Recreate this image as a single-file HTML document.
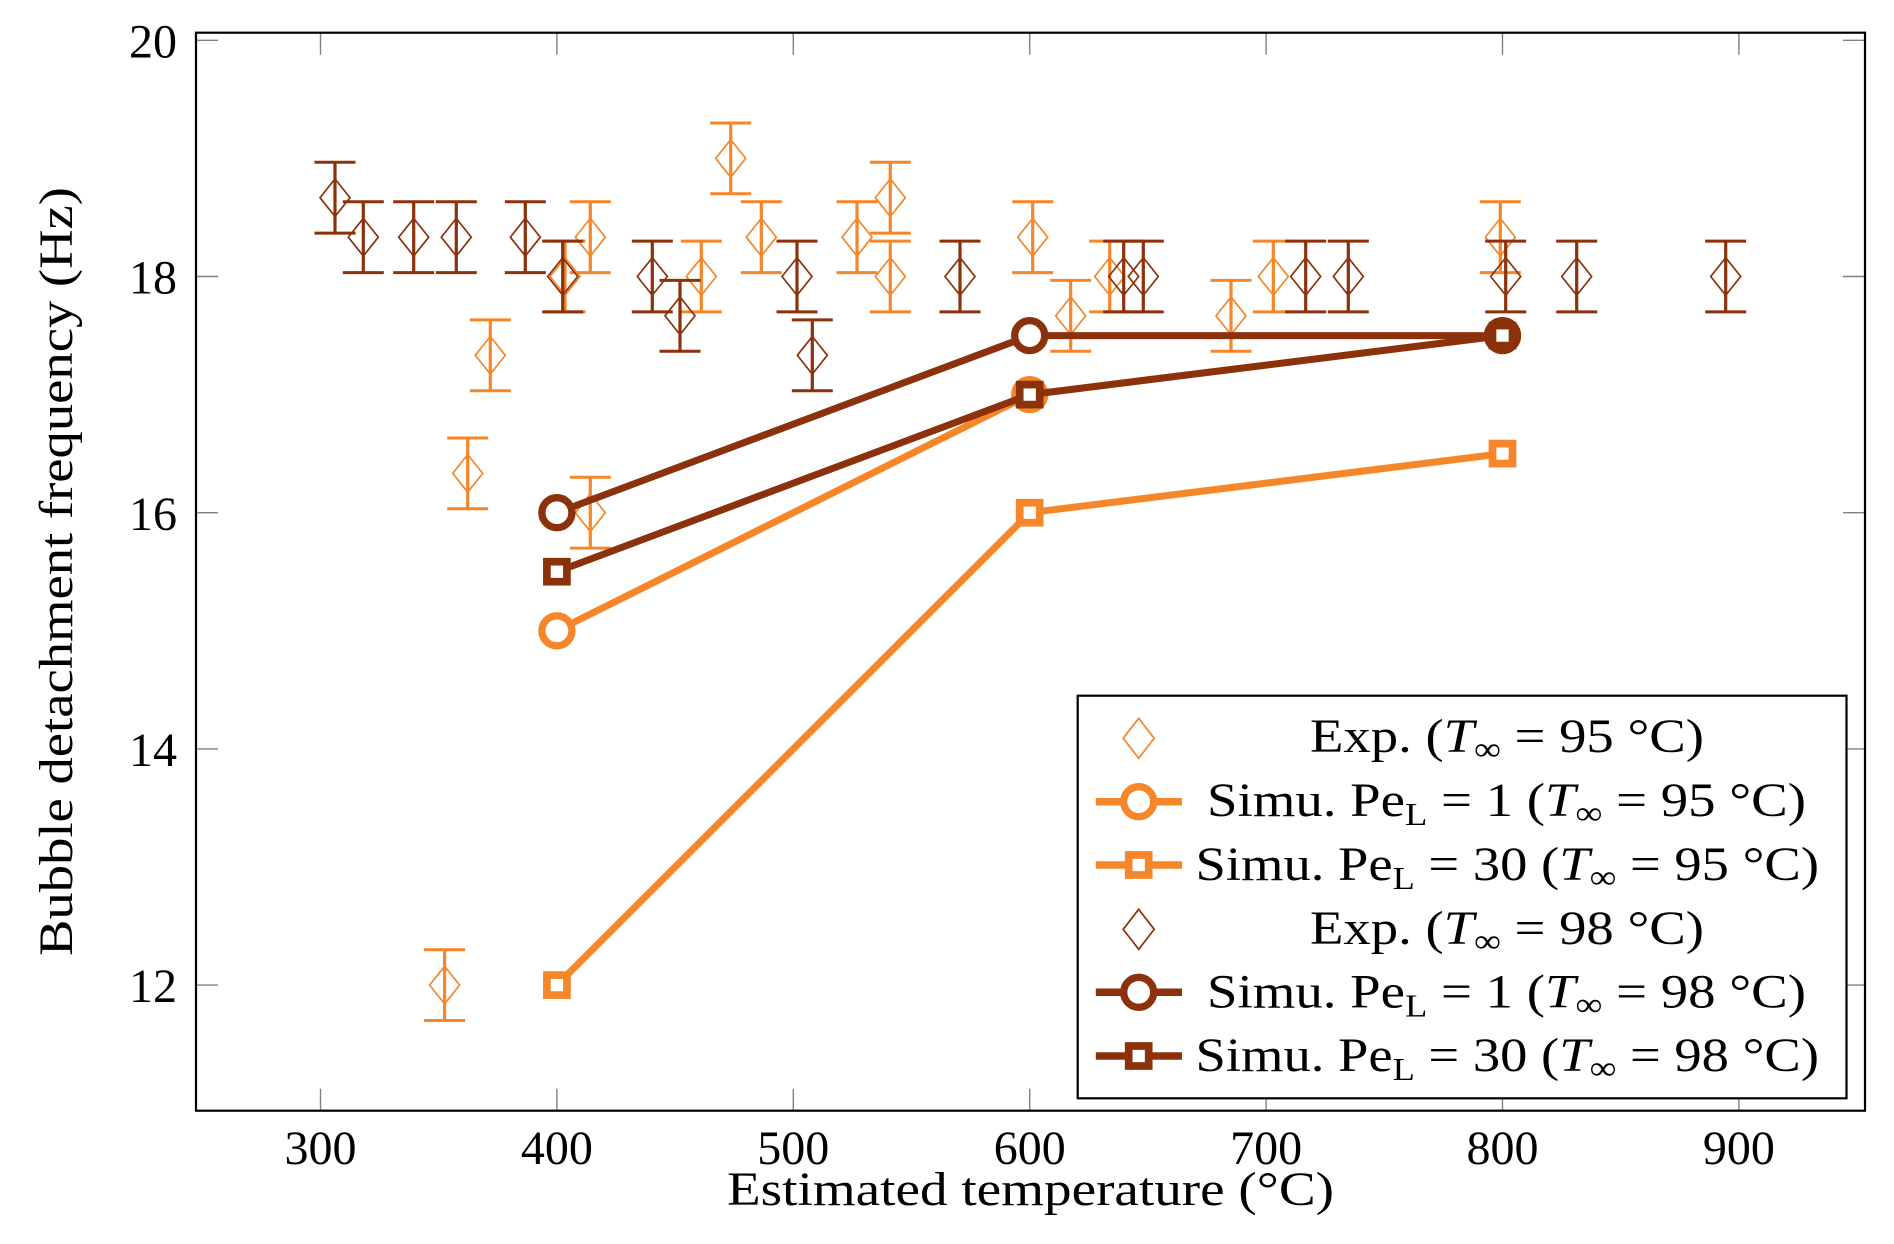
<!DOCTYPE html>
<html><head><meta charset="utf-8"><style>
html,body{margin:0;padding:0;background:#fff;}
svg{display:block;}
text{font-family:"Liberation Serif","DejaVu Serif",serif;fill:#000;}
</style></head><body>
<svg xmlns="http://www.w3.org/2000/svg" xmlns:xlink="http://www.w3.org/1999/xlink" width="1894" height="1244" viewBox="0 0 1894 1244">
<defs>
<g id="eo" stroke="#f5862a" fill="none">
<line x1="0" y1="-35.4" x2="0" y2="35.4" stroke-width="3.2"/>
<line x1="-20.5" y1="-35.4" x2="20.5" y2="-35.4" stroke-width="3"/>
<line x1="-20.5" y1="35.4" x2="20.5" y2="35.4" stroke-width="3"/>
<polygon points="0,-18.8 15,0 0,18.8 -15,0" stroke-width="1.7"/>
</g>
<g id="eb" stroke="#8b320c" fill="none">
<line x1="0" y1="-35.4" x2="0" y2="35.4" stroke-width="3.2"/>
<line x1="-20.5" y1="-35.4" x2="20.5" y2="-35.4" stroke-width="3"/>
<line x1="-20.5" y1="35.4" x2="20.5" y2="35.4" stroke-width="3"/>
<polygon points="0,-18.8 15,0 0,18.8 -15,0" stroke-width="1.7"/>
</g>
</defs>
<rect x="0" y="0" width="1894" height="1244" fill="#fff"/>

<!-- ticks -->
<g stroke="#808080" stroke-width="1.4">
<line x1="320.5" y1="1110.7" x2="320.5" y2="1088.7"/><line x1="320.5" y1="32.7" x2="320.5" y2="54.7"/>
<line x1="556.9" y1="1110.7" x2="556.9" y2="1088.7"/><line x1="556.9" y1="32.7" x2="556.9" y2="54.7"/>
<line x1="793.3" y1="1110.7" x2="793.3" y2="1088.7"/><line x1="793.3" y1="32.7" x2="793.3" y2="54.7"/>
<line x1="1029.7" y1="1110.7" x2="1029.7" y2="1088.7"/><line x1="1029.7" y1="32.7" x2="1029.7" y2="54.7"/>
<line x1="1266.1" y1="1110.7" x2="1266.1" y2="1088.7"/><line x1="1266.1" y1="32.7" x2="1266.1" y2="54.7"/>
<line x1="1502.5" y1="1110.7" x2="1502.5" y2="1088.7"/><line x1="1502.5" y1="32.7" x2="1502.5" y2="54.7"/>
<line x1="1738.9" y1="1110.7" x2="1738.9" y2="1088.7"/><line x1="1738.9" y1="32.7" x2="1738.9" y2="54.7"/>
<line x1="196" y1="985.1" x2="218" y2="985.1"/><line x1="1865" y1="985.1" x2="1843" y2="985.1"/>
<line x1="196" y1="748.9" x2="218" y2="748.9"/><line x1="1865" y1="748.9" x2="1843" y2="748.9"/>
<line x1="196" y1="512.7" x2="218" y2="512.7"/><line x1="1865" y1="512.7" x2="1843" y2="512.7"/>
<line x1="196" y1="276.5" x2="218" y2="276.5"/><line x1="1865" y1="276.5" x2="1843" y2="276.5"/>
<line x1="196" y1="40.3" x2="218" y2="40.3"/><line x1="1865" y1="40.3" x2="1843" y2="40.3"/>
</g>

<!-- orange experimental -->
<use xlink:href="#eo" x="444.6" y="985.1"/>
<use xlink:href="#eo" x="467.7" y="473.4"/>
<use xlink:href="#eo" x="490.3" y="355.3"/>
<use xlink:href="#eo" x="565" y="276.5"/>
<use xlink:href="#eo" x="590.3" y="237.2"/>
<use xlink:href="#eo" x="590.3" y="512.7"/>
<use xlink:href="#eo" x="701.3" y="276.5"/>
<use xlink:href="#eo" x="730.7" y="158.4"/>
<use xlink:href="#eo" x="761.3" y="237.2"/>
<use xlink:href="#eo" x="857" y="237.2"/>
<use xlink:href="#eo" x="890.3" y="197.7"/>
<use xlink:href="#eo" x="890.3" y="276.5"/>
<use xlink:href="#eo" x="1032.7" y="237.2"/>
<use xlink:href="#eo" x="1070.7" y="315.8"/>
<use xlink:href="#eo" x="1109.7" y="276.5"/>
<use xlink:href="#eo" x="1231" y="315.8"/>
<use xlink:href="#eo" x="1273.3" y="276.5"/>
<use xlink:href="#eo" x="1500.3" y="237.2"/>

<!-- orange Pe 1 -->
<polyline points="556.9,630.8 1029.7,394.6 1502.5,335.6" fill="none" stroke="#f5862a" stroke-width="7" stroke-linejoin="round"/>
<g fill="#fff" stroke="#f5862a" stroke-width="7.3">
<circle cx="556.9" cy="630.8" r="15"/><circle cx="1029.7" cy="394.6" r="15"/><circle cx="1502.5" cy="335.6" r="15"/>
</g>
<!-- orange Pe 30 -->
<polyline points="556.9,985.1 1029.7,512.7 1502.5,453.6" fill="none" stroke="#f5862a" stroke-width="7" stroke-linejoin="round"/>
<g fill="#fff" stroke="#f5862a" stroke-width="7.7">
<rect x="546.9" y="975.1" width="20" height="20"/><rect x="1019.7" y="502.7" width="20" height="20"/><rect x="1492.5" y="443.6" width="20" height="20"/>
</g>

<!-- brown experimental -->
<use xlink:href="#eb" x="335" y="197.7"/>
<use xlink:href="#eb" x="363.3" y="237.2"/>
<use xlink:href="#eb" x="413.7" y="237.2"/>
<use xlink:href="#eb" x="456.3" y="237.2"/>
<use xlink:href="#eb" x="525.3" y="237.2"/>
<use xlink:href="#eb" x="562.7" y="276.5"/>
<use xlink:href="#eb" x="652.3" y="276.5"/>
<use xlink:href="#eb" x="680" y="315.8"/>
<use xlink:href="#eb" x="797" y="276.5"/>
<use xlink:href="#eb" x="812.3" y="355.3"/>
<use xlink:href="#eb" x="960" y="276.5"/>
<use xlink:href="#eb" x="1123.7" y="276.5"/>
<use xlink:href="#eb" x="1143.3" y="276.5"/>
<use xlink:href="#eb" x="1305.7" y="276.5"/>
<use xlink:href="#eb" x="1348.3" y="276.5"/>
<use xlink:href="#eb" x="1505.7" y="276.5"/>
<use xlink:href="#eb" x="1576.7" y="276.5"/>
<use xlink:href="#eb" x="1725.7" y="276.5"/>

<!-- brown Pe 1 -->
<polyline points="556.9,512.7 1029.7,335.6 1502.5,335.6" fill="none" stroke="#8b320c" stroke-width="7" stroke-linejoin="round"/>
<g fill="#fff" stroke="#8b320c" stroke-width="7.3">
<circle cx="556.9" cy="512.7" r="15"/><circle cx="1029.7" cy="335.6" r="15"/><circle cx="1502.5" cy="335.6" r="15"/>
</g>
<!-- brown Pe 30 -->
<polyline points="556.9,571.7 1029.7,394.6 1502.5,335.6" fill="none" stroke="#8b320c" stroke-width="7" stroke-linejoin="round"/>
<g fill="#fff" stroke="#8b320c" stroke-width="7.7">
<rect x="546.9" y="561.7" width="20" height="20"/><rect x="1019.7" y="384.6" width="20" height="20"/><rect x="1492.5" y="325.6" width="20" height="20"/>
</g>

<!-- axis box -->
<rect x="196" y="32.7" width="1669" height="1078" fill="none" stroke="#000" stroke-width="2.2"/>

<!-- tick labels -->
<g font-size="48" text-anchor="end">
<text x="177" y="1002">12</text>
<text x="177" y="766">14</text>
<text x="177" y="530">16</text>
<text x="177" y="293.5">18</text>
<text x="177" y="57.3">20</text>
</g>
<g font-size="48" text-anchor="middle">
<text x="320.5" y="1164">300</text>
<text x="556.9" y="1164">400</text>
<text x="793.3" y="1164">500</text>
<text x="1029.7" y="1164">600</text>
<text x="1266.1" y="1164">700</text>
<text x="1502.5" y="1164">800</text>
<text x="1738.9" y="1164">900</text>
</g>

<!-- axis labels -->
<text x="727" y="1205" font-size="48" textLength="607" lengthAdjust="spacingAndGlyphs">Estimated temperature (°C)</text>
<text transform="translate(72,956) rotate(-90)" x="0" y="0" font-size="48" textLength="769" lengthAdjust="spacingAndGlyphs">Bubble detachment frequency (Hz)</text>

<!-- legend -->
<rect x="1077.7" y="695.7" width="768.8" height="402.6" fill="#fff" stroke="#000" stroke-width="2.2"/>
<polygon points="1138.7,718.3 1154.2,738.3 1138.7,758.3 1123.2,738.3" fill="none" stroke="#f5862a" stroke-width="1.7"/>
<line x1="1095.8" y1="801.7" x2="1182" y2="801.7" stroke="#f5862a" stroke-width="7.5"/>
<circle cx="1138.7" cy="801.7" r="15" fill="#fff" stroke="#f5862a" stroke-width="7.3"/>
<line x1="1095.8" y1="865" x2="1182" y2="865" stroke="#f5862a" stroke-width="7.5"/>
<rect x="1128.7" y="855" width="20" height="20" fill="#fff" stroke="#f5862a" stroke-width="7.7"/>
<polygon points="1138.7,909.3 1154.2,929.3 1138.7,949.3 1123.2,929.3" fill="none" stroke="#8b320c" stroke-width="1.7"/>
<line x1="1095.8" y1="992.3" x2="1182" y2="992.3" stroke="#8b320c" stroke-width="7.5"/>
<circle cx="1138.7" cy="992.3" r="15" fill="#fff" stroke="#8b320c" stroke-width="7.3"/>
<line x1="1095.8" y1="1056" x2="1182" y2="1056" stroke="#8b320c" stroke-width="7.5"/>
<rect x="1128.7" y="1046" width="20" height="20" fill="#fff" stroke="#8b320c" stroke-width="7.7"/>

<g font-size="48">
<text x="1310" y="752" textLength="394" lengthAdjust="spacingAndGlyphs">Exp. (<tspan font-style="italic">T</tspan><tspan font-size="33" dy="8">∞</tspan><tspan dy="-8"> = 95 °C)</tspan></text>
<text x="1207" y="816" textLength="599" lengthAdjust="spacingAndGlyphs">Simu. Pe<tspan font-size="32" dy="9">L</tspan><tspan dy="-9"> = 1 (</tspan><tspan font-style="italic">T</tspan><tspan font-size="33" dy="8">∞</tspan><tspan dy="-8"> = 95 °C)</tspan></text>
<text x="1195.5" y="880" textLength="623.5" lengthAdjust="spacingAndGlyphs">Simu. Pe<tspan font-size="32" dy="9">L</tspan><tspan dy="-9"> = 30 (</tspan><tspan font-style="italic">T</tspan><tspan font-size="33" dy="8">∞</tspan><tspan dy="-8"> = 95 °C)</tspan></text>
<text x="1310" y="944" textLength="394" lengthAdjust="spacingAndGlyphs">Exp. (<tspan font-style="italic">T</tspan><tspan font-size="33" dy="8">∞</tspan><tspan dy="-8"> = 98 °C)</tspan></text>
<text x="1207" y="1007.5" textLength="599" lengthAdjust="spacingAndGlyphs">Simu. Pe<tspan font-size="32" dy="9">L</tspan><tspan dy="-9"> = 1 (</tspan><tspan font-style="italic">T</tspan><tspan font-size="33" dy="8">∞</tspan><tspan dy="-8"> = 98 °C)</tspan></text>
<text x="1195.5" y="1071" textLength="623.5" lengthAdjust="spacingAndGlyphs">Simu. Pe<tspan font-size="32" dy="9">L</tspan><tspan dy="-9"> = 30 (</tspan><tspan font-style="italic">T</tspan><tspan font-size="33" dy="8">∞</tspan><tspan dy="-8"> = 98 °C)</tspan></text>
</g>
</svg>
</body></html>
